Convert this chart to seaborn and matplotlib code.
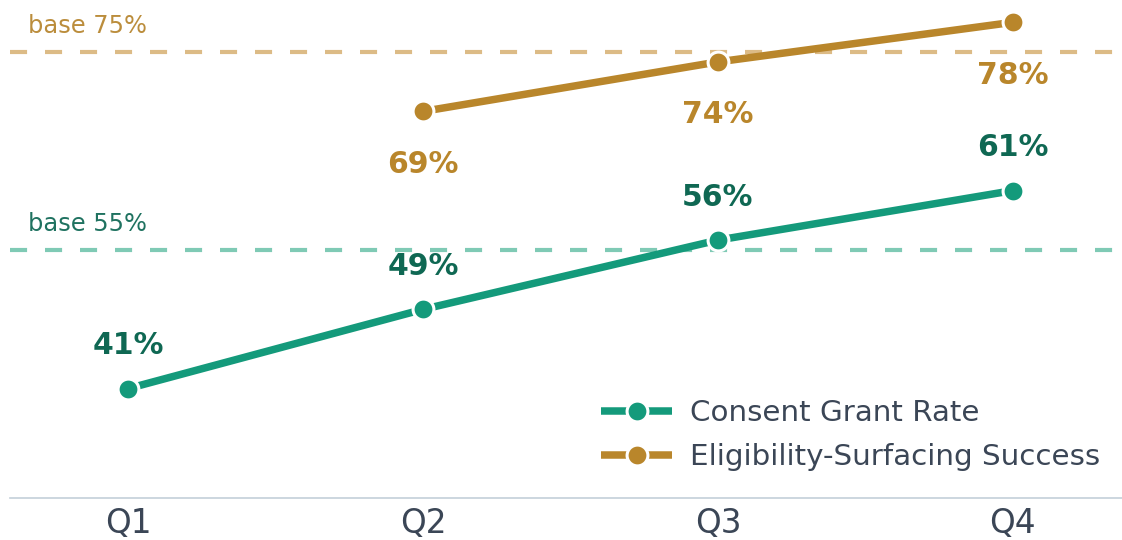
import numpy as np
import pandas as pd
import matplotlib
matplotlib.use("Agg")
import matplotlib.pyplot as plt
import seaborn as sns

quarters = ["Q1", "Q2", "Q3", "Q4"]
consent = [41, 49, 56, 61]
eligibility = [np.nan, 69, 74, 78]
series_names = ["Consent Grant Rate", "Eligibility-Surfacing Success"]
baselines = [55, 75]
base_labels = ["base 55%", "base 75%"]

line_colors = ["#149a7b", "#b9862b"]
label_colors = ["#0f6853", "#b9862b"]
base_line_colors = ["#7fcab5", "#dcbb86"]
base_text_colors = ["#1f7260", "#bb8d3c"]
text_color = "#3b4656"

sns.set_theme(style="white")
plt.rcParams['font.family'] = ['DejaVu Sans']

fig = plt.figure(figsize=(11.22, 5.40), dpi=100)
ax = fig.add_axes([10 / 1122, 42.5 / 540, 1 - 10 / 1122, 495 / 540])

xpos = np.arange(len(quarters))
data = [consent, eligibility]
offsets = [31, -38]

for i, (name, vals) in enumerate(zip(series_names, data)):
    df = pd.DataFrame({"x": xpos, "y": vals}).dropna()
    sns.lineplot(data=df, x="x", y="y", ax=ax, color=line_colors[i], lw=5.4,
                 marker="o", markersize=15, markeredgecolor="white",
                 markeredgewidth=2.2, label=name, solid_capstyle="butt",
                 zorder=3)
    for xv, yv in zip(df["x"], df["y"]):
        ax.annotate(f"{yv:.0f}%", (xv, yv), xytext=(0, offsets[i]),
                    textcoords="offset points", ha="center", va="center",
                    fontsize=21.5, fontweight="bold", color=label_colors[i])

for b, lab, lc, tc in zip(baselines, base_labels, base_line_colors, base_text_colors):
    ax.axhline(b, color=lc, lw=3, dashes=(4.1, 4.3), zorder=1)
    ax.text(-0.34, b + 2.65, lab, ha="left", va="center", fontsize=17.4, color=tc)

ax.set_xlim(-0.4, 3.37)
ax.set_ylim(30, 80)
ax.set_xticks(xpos)
ax.set_xticklabels(quarters, fontsize=23.5, color=text_color)
ax.tick_params(axis="x", length=0, pad=7)
ax.set_yticks([])
ax.set_xlabel("")
ax.set_ylabel("")
for s in ["top", "left", "right"]:
    ax.spines[s].set_visible(False)
ax.spines["bottom"].set_color("#c3cfd9")
ax.spines["bottom"].set_linewidth(1.2)

leg = ax.legend(loc="lower right", frameon=False, fontsize=21.2,
                handlelength=2.4, bbox_to_anchor=(1.004, 0.0),
                labelcolor=text_color, handletextpad=0.6, labelspacing=0.55)

fig.savefig("out.png", dpi=100)
